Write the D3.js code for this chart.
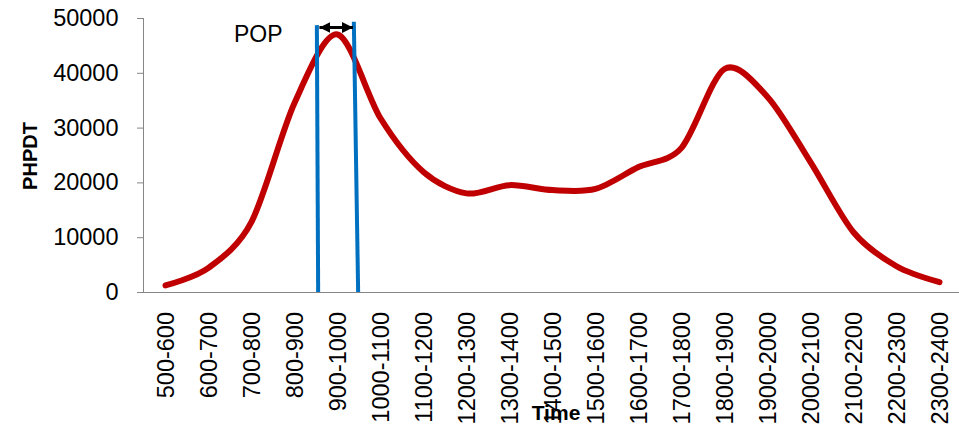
<!DOCTYPE html>
<html>
<head>
<meta charset="utf-8">
<script src="https://cdn.jsdelivr.net/npm/d3@7"></script>
<style>
  html, body { margin: 0; padding: 0; background: #fff; }
  svg { display: block; }
  text { font-family: "Liberation Sans", Arial, sans-serif; fill: #000; }
</style>
</head>
<body>
<svg id="chart" width="959" height="427"></svg>
<script>
// Hourly time bands and peak-hour-peak-direction traffic
const categories = ["500-600", "600-700", "700-800", "800-900", "900-1000", "1000-1100",
  "1100-1200", "1200-1300", "1300-1400", "1400-1500", "1500-1600", "1600-1700",
  "1700-1800", "1800-1900", "1900-2000", "2000-2100", "2100-2200", "2200-2300", "2300-2400"];
const phpdt = [1200, 4400, 12800, 34500, 47000, 31700, 21900, 18000, 19500, 18600,
  18800, 22800, 26300, 40700, 35600, 23700, 10900, 4700, 1800];
const yTicks = [0, 10000, 20000, 30000, 40000, 50000];

// Peak-of-peak window: band-index positions of the two markers and the span arrow
const popBottomIdx = [4.05, 4.98];
const popTopIdx = [4.02, 4.88];
const popTopValue = [48700, 49300];
const popArrowIdx = [4.08, 4.86];
const popArrowValue = 48250;
const popLabel = "POP";

const svg = d3.select("#chart");
const plotLeft = 144, plotRight = 961, plotTop = 18, plotBottom = 292;

const x = d3.scaleBand().domain(categories).range([plotLeft, plotRight]).padding(0);
const xi = d3.scaleLinear().domain([0, categories.length]).range([plotLeft, plotRight]);
const y = d3.scaleLinear().domain([0, 50000]).range([plotBottom, plotTop]);

// Y axis
const yAxis = svg.append("g")
  .attr("transform", `translate(${plotLeft},0)`)
  .call(d3.axisLeft(y).tickValues(yTicks).tickSize(7).tickPadding(18).tickFormat(d3.format("d")));
yAxis.select(".domain").attr("stroke", "#868686").attr("d", `M-0.5,${plotTop}V${plotBottom}`);
yAxis.selectAll(".tick line").attr("stroke", "#868686");
yAxis.selectAll(".tick text")
  .attr("font-family", "'Liberation Sans', Arial, sans-serif")
  .attr("font-size", 23.5)
  .attr("fill", "#000")
  .attr("x", -25.5);

// X axis
const xAxis = svg.append("g")
  .attr("transform", `translate(0,${plotBottom})`)
  .call(d3.axisBottom(x).tickSize(0).tickPadding(0));
xAxis.select(".domain").attr("stroke", "#868686").attr("d", `M${plotLeft - 7},0.5H${plotRight}`);
xAxis.selectAll(".tick text")
  .attr("font-family", "'Liberation Sans', Arial, sans-serif")
  .attr("font-size", 23.5)
  .attr("fill", "#000")
  .attr("text-anchor", "end")
  .attr("transform", "rotate(-90)")
  .attr("x", -20)
  .attr("y", 0)
  .attr("dy", "0.36em");

// Axis titles
svg.append("text")
  .attr("transform", `translate(37,156) rotate(-90)`)
  .attr("text-anchor", "middle")
  .attr("font-weight", "bold")
  .attr("font-size", 20)
  .text("PHPDT");

svg.append("text")
  .attr("x", 556).attr("y", 420)
  .attr("text-anchor", "middle")
  .attr("font-weight", "bold")
  .attr("font-size", 21)
  .text("Time");

// PHPDT curve
const line = d3.line()
  .x((d, i) => x(categories[i]) + x.bandwidth() / 2)
  .y(d => y(d))
  .curve(d3.curveCardinal.tension(0.1));

svg.append("path")
  .datum(phpdt)
  .attr("fill", "none")
  .attr("stroke", "#C00000")
  .attr("stroke-width", 6)
  .attr("stroke-linecap", "round")
  .attr("stroke-linejoin", "round")
  .attr("d", line);

// POP window markers
svg.append("g").selectAll("line")
  .data(popBottomIdx)
  .join("line")
  .attr("x1", d => xi(d))
  .attr("y1", y(0))
  .attr("x2", (d, i) => xi(popTopIdx[i]))
  .attr("y2", (d, i) => y(popTopValue[i]))
  .attr("stroke", "#0070C0")
  .attr("stroke-width", 4);

// Double-headed arrow spanning the window
const defs = svg.append("defs");
defs.append("marker")
  .attr("id", "head")
  .attr("markerUnits", "userSpaceOnUse")
  .attr("viewBox", "0 0 10 10")
  .attr("refX", 10).attr("refY", 5)
  .attr("markerWidth", 11).attr("markerHeight", 11)
  .attr("orient", "auto-start-reverse")
  .append("path")
  .attr("d", "M0,0L10,5L0,10Z")
  .attr("fill", "#000");

svg.append("line")
  .attr("x1", xi(popArrowIdx[0]))
  .attr("x2", xi(popArrowIdx[1]))
  .attr("y1", y(popArrowValue))
  .attr("y2", y(popArrowValue))
  .attr("stroke", "#000")
  .attr("stroke-width", 3)
  .attr("marker-start", "url(#head)")
  .attr("marker-end", "url(#head)");

svg.append("text")
  .attr("x", 234).attr("y", 42)
  .attr("font-size", 23)
  .text(popLabel);
</script>
</body>
</html>
